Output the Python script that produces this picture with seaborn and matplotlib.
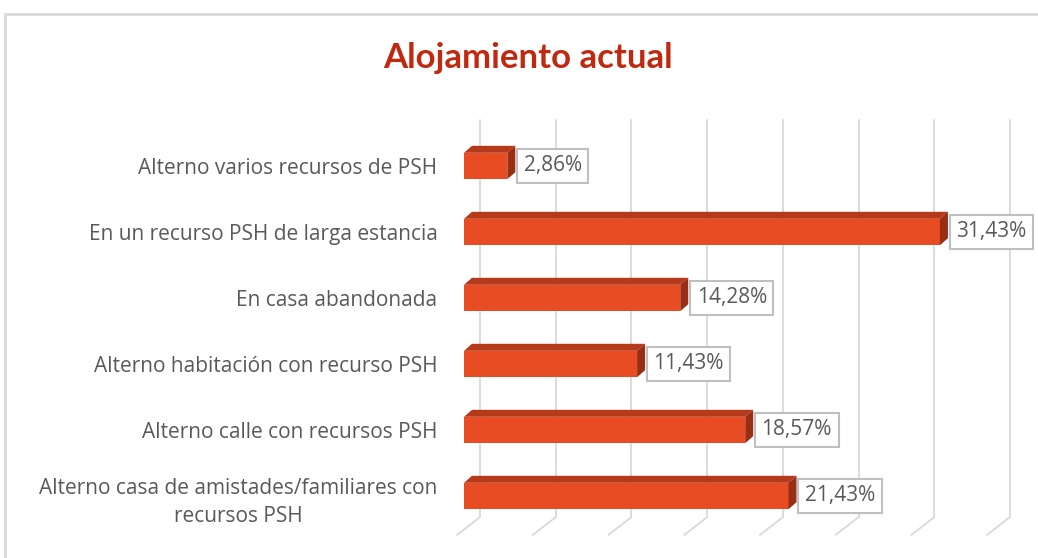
import matplotlib
matplotlib.use("Agg")
import matplotlib.pyplot as plt
import matplotlib.transforms as mtransforms
from matplotlib.patches import Polygon, Rectangle
from matplotlib.lines import Line2D
import seaborn as sns
import pandas as pd

categories = [
    "Alterno varios recursos de PSH",
    "En un recurso PSH de larga estancia",
    "En casa abandonada",
    "Alterno habitación con recurso PSH",
    "Alterno calle con recursos PSH",
    "Alterno casa de amistades/familiares con\nrecursos PSH",
]
values = [2.86, 31.43, 14.28, 11.43, 18.57, 21.43]
x_ticks = [0, 5, 10, 15, 20, 25, 30, 35]

data = pd.DataFrame({"categoria": categories, "porcentaje": values})

sns.set_theme(style="white")
plt.rcParams["font.family"] = ["Open Sans", "DejaVu Sans"]

fig = plt.figure(figsize=(10.38, 5.58), dpi=100)
ax = fig.add_axes([464 / 1038, 1 - 529 / 558, 530 / 1038, 396 / 558])

front = "#E84C22"
top_c = "#B5391B"
side_c = "#982E14"

sns.barplot(data=data, x="porcentaje", y="categoria", orient="h",
            color=front, width=0.4, saturation=1, linewidth=0, ax=ax, zorder=3)
ax.set_xlim(0, 35)
ax.set_ylim(len(categories) - 0.5, -0.5)

# depth of the 3D bars, in data units
px_x = 35 / 530
px_y = len(categories) / 396
dx, dy = 8 * px_x, 7 * px_y

for p in ax.patches[:len(values)]:
    x0 = p.get_x()
    x1 = x0 + p.get_width()
    yt = p.get_y()
    yb = yt + p.get_height()
    ax.add_patch(Polygon([(x0, yt), (x0 + dx, yt - dy), (x1 + dx, yt - dy), (x1, yt)],
                         closed=True, fc=top_c, ec="none", zorder=3))
    ax.add_patch(Polygon([(x1, yt), (x1 + dx, yt - dy), (x1 + dx, yb - dy), (x1, yb)],
                         closed=True, fc=side_c, ec="none", zorder=3))
    ax.text(x1 + dx + 0.55, (yt + yb) / 2, f"{p.get_width():.2f}".replace(".", ",") + "%",
            va="center", ha="left", fontsize=15, color="#595959", zorder=5,
            bbox=dict(boxstyle="square,pad=0.32", fc="white", ec="#BFBFBF", lw=1.5))

# back wall gridlines with slanted floor
back = ax.get_xaxis_transform() + mtransforms.ScaledTranslation(16 / 100, 0, fig.dpi_scale_trans)
slant = ax.get_xaxis_transform() + mtransforms.ScaledTranslation(-7 / 100, 0, fig.dpi_scale_trans)
for t in x_ticks:
    ax.add_line(Line2D([t, t], [1.033, 0.030], transform=back, color="#D9D9D9",
                       lw=1.3, zorder=1, clip_on=False))
    ax.add_line(Line2D([t + 23 * px_x, t], [0.030, -0.015], transform=slant, color="#D9D9D9",
                       lw=1.3, zorder=1, clip_on=False))

ax.set_xticks([])
ax.set_xlabel("")
ax.set_ylabel("")
ax.tick_params(axis="y", length=0, pad=19)
for lab in ax.get_yticklabels():
    lab.set_fontsize(15)
    lab.set_color("#595959")
    lab.set_multialignment("center")
    lab.set_linespacing(1.5)
for s in ax.spines.values():
    s.set_visible(False)

fig.text(528 / 1038, 1 - 58 / 558, "Alojamiento actual", ha="center", va="center",
         fontsize=25, fontweight="bold", color="#C0290F", family=["Lato", "DejaVu Sans"])

fig.patches.append(Rectangle((5, -10), 1100, 558 - 14 + 10, transform=None,
                             fill=False, ec="#D9D9D9", lw=2))

fig.savefig("out.png", dpi=100)
